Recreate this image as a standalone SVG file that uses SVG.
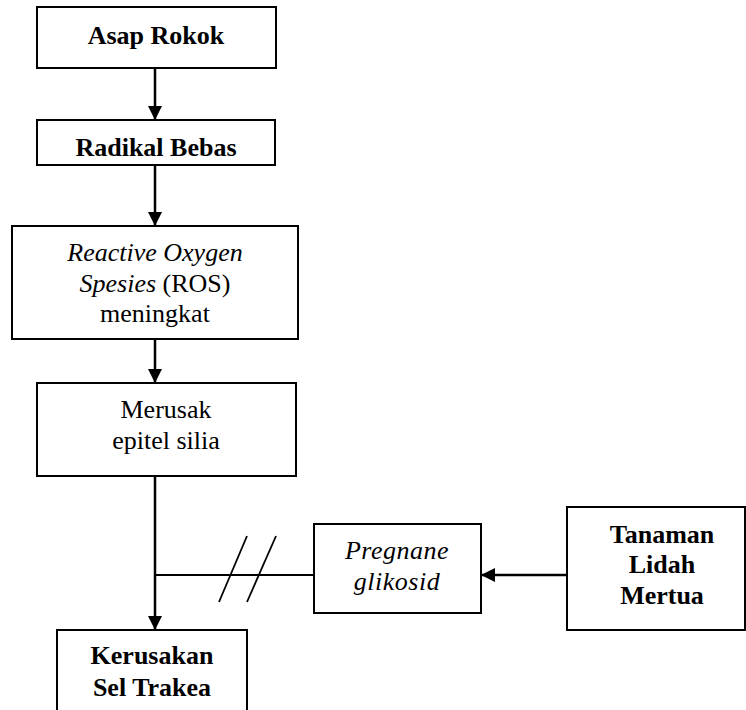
<svg xmlns="http://www.w3.org/2000/svg" width="746" height="710" viewBox="0 0 746 710">
<style>
.box{fill:#fff;stroke:#000;stroke-width:2}
.t{font-family:"Liberation Serif","Times New Roman",serif;font-size:26px;fill:#000;text-anchor:middle}
.b{font-weight:bold}
.i{font-style:italic}
.ln{stroke:#000;stroke-width:2.5;fill:none}
.thin{stroke:#000;stroke-width:1.8;fill:none}
</style>
<defs>
<marker id="ah2" markerWidth="14" markerHeight="14" viewBox="0 0 14 14" refX="14" refY="7" orient="auto" markerUnits="userSpaceOnUse">
<path d="M0,0 L14,7 L0,14 Z" fill="#000"/>
</marker>
</defs>
<g id="connectors">
<line class="ln" x1="155" y1="68" x2="155" y2="120" marker-end="url(#ah2)"/>
<line class="ln" x1="155" y1="165" x2="155" y2="226" marker-end="url(#ah2)"/>
<line class="ln" x1="155" y1="339" x2="155" y2="383" marker-end="url(#ah2)"/>
<line class="ln" x1="155" y1="476" x2="155" y2="630" marker-end="url(#ah2)"/>
<line class="thin" x1="155" y1="575" x2="314" y2="575"/>
<line class="thin" x1="219" y1="602" x2="247" y2="536"/>
<line class="thin" x1="247" y1="602" x2="276" y2="536"/>
<line class="ln" x1="567" y1="575" x2="481" y2="575" marker-end="url(#ah2)"/>
</g>
<g id="asap-rokok">
<rect class="box" x="37" y="7" width="239" height="61"/>
<text class="t b" x="156" y="44">Asap Rokok</text>
</g>
<g id="radikal-bebas">
<rect class="box" x="37" y="120" width="238" height="45"/>
<text class="t b" x="156" y="156">Radikal Bebas</text>
</g>
<g id="ros">
<rect class="box" x="12" y="226" width="286" height="113"/>
<text class="t" x="155" y="261"><tspan class="i">Reactive Oxygen</tspan></text>
<text class="t" x="155" y="292"><tspan class="i">Spesies</tspan> (ROS)</text>
<text class="t" x="155" y="322">meningkat</text>
</g>
<g id="merusak">
<rect class="box" x="37" y="383" width="259" height="93"/>
<text class="t" x="166" y="418">Merusak</text>
<text class="t" x="166" y="449">epitel silia</text>
</g>
<g id="pregnane">
<rect class="box" x="314" y="524" width="167" height="89"/>
<text class="t i" x="397" y="559" letter-spacing="0.5">Pregnane</text>
<text class="t i" x="397" y="590" letter-spacing="0.5">glikosid</text>
</g>
<g id="tanaman">
<rect class="box" x="567" y="507" width="178" height="123"/>
<text class="t b" x="662" y="543">Tanaman</text>
<text class="t b" x="662" y="573">Lidah</text>
<text class="t b" x="662" y="604">Mertua</text>
</g>
<g id="kerusakan">
<rect class="box" x="57" y="630" width="190" height="90"/>
<text class="t b" x="152" y="664">Kerusakan</text>
<text class="t b" x="152" y="696">Sel Trakea</text>
</g>
</svg>
